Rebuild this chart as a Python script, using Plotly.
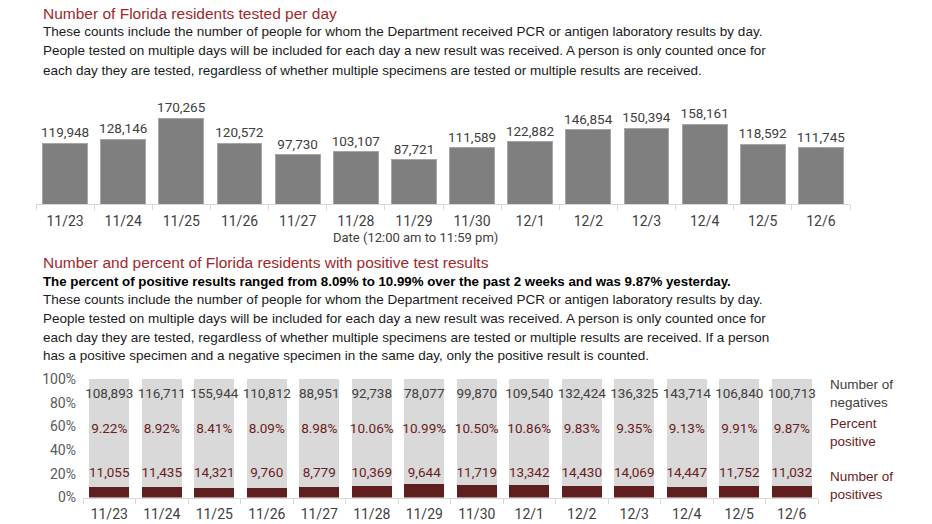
import plotly.graph_objects as go

W, H = 932, 524

dates = ["11/23", "11/24", "11/25", "11/26", "11/27", "11/28", "11/29",
         "11/30", "12/1", "12/2", "12/3", "12/4", "12/5", "12/6"]
tested = [119948, 128146, 170265, 120572, 97730, 103107, 87721,
          111589, 122882, 146854, 150394, 158161, 118592, 111745]
negatives = [108893, 116711, 155944, 110812, 88951, 92738, 78077,
             99870, 109540, 132424, 136325, 143714, 106840, 100713]
positives = [11055, 11435, 14321, 9760, 8779, 10369, 9644,
             11719, 13342, 14430, 14069, 14447, 11752, 11032]
pct_positive = [9.22, 8.92, 8.41, 8.09, 8.98, 10.06, 10.99,
                10.50, 10.86, 9.83, 9.35, 9.13, 9.91, 9.87]

RED = "#A0282C"
DKRED = "#6B1C1C"
BARRED = "#5F1F1F"
GRAY_TXT = "#404040"
NUMFONT = "Roboto, Arial, sans-serif"
BODYFONT = "Liberation Sans, Arial, sans-serif"


def px(x):
    return x / W


def py(y):
    return 1 - y / H


totals = [p + n for p, n in zip(positives, negatives)]
pos_frac = [p / t for p, t in zip(positives, totals)]
neg_frac = [n / t for n, t in zip(negatives, totals)]
n_cat = len(dates)

fig = go.Figure()

# Top chart
fig.add_trace(go.Bar(
    x=dates, y=tested, xaxis="x", yaxis="y",
    marker=dict(color="#7F7F7F", line=dict(color="#A6A6A6", width=1)),
    text=[f"{v:,}" for v in tested], textposition="outside",
    constraintext="none",
    textfont=dict(family=NUMFONT, size=13.5, color=GRAY_TXT),
    cliponaxis=False, showlegend=False, hoverinfo="x+y",
))

# Bottom chart stacked
fig.add_trace(go.Bar(
    x=dates, y=pos_frac, xaxis="x2", yaxis="y2",
    marker=dict(color=BARRED, line=dict(width=0)),
    showlegend=False, hoverinfo="x+y",
))
fig.add_trace(go.Bar(
    x=dates, y=neg_frac, xaxis="x2", yaxis="y2",
    marker=dict(color="#D9D9D9", line=dict(width=0)),
    showlegend=False, hoverinfo="x+y",
))

# labels in the bottom chart
fig.add_trace(go.Scatter(
    x=dates, y=[0.865] * n_cat, xaxis="x2", yaxis="y2", mode="text",
    text=[f"{v:,}" for v in negatives],
    textfont=dict(family=NUMFONT, size=13.5, color=GRAY_TXT),
    showlegend=False, hoverinfo="skip", cliponaxis=False,
))
fig.add_trace(go.Scatter(
    x=dates, y=[0.575] * n_cat, xaxis="x2", yaxis="y2", mode="text",
    text=[f"{v:.2f}%" for v in pct_positive],
    textfont=dict(family=NUMFONT, size=13.5, color=DKRED),
    showlegend=False, hoverinfo="skip", cliponaxis=False,
))
fig.add_trace(go.Scatter(
    x=dates, y=[0.2] * n_cat, xaxis="x2", yaxis="y2", mode="text",
    text=[f"{v:,}" for v in positives],
    textfont=dict(family=NUMFONT, size=13.5, color=DKRED),
    showlegend=False, hoverinfo="skip", cliponaxis=False,
))

axis_common = dict(
    showline=True, linecolor="#D9D9D9", linewidth=1,
    ticks="outside", tickson="boundaries", ticklen=5, tickcolor="#D9D9D9",
    showgrid=False, zeroline=False, automargin=False,
    range=[-0.5, n_cat - 0.5], ticklabelstandoff=4,
    tickfont=dict(family=NUMFONT, size=14, color=GRAY_TXT),
)

fig.update_layout(
    width=W, height=H, autosize=False,
    margin=dict(l=0, r=0, t=0, b=0, pad=0, autoexpand=False),
    paper_bgcolor="white", plot_bgcolor="white",
    barmode="stack", bargap=0.23,
    xaxis=dict(domain=[px(36), px(850)], anchor="y", **axis_common),
    yaxis=dict(domain=[py(204), py(103)], range=[0, 200000], anchor="x",
               visible=False, automargin=False),
    xaxis2=dict(domain=[px(83), px(818)], anchor="y2", **axis_common),
    yaxis2=dict(domain=[py(497.5), py(379)], range=[0, 1], anchor="x2",
                tickvals=[0, 0.2, 0.4, 0.6, 0.8, 1.0],
                ticktext=["0%", "20%", "40%", "60%", "80%", "100%"],
                tickfont=dict(family=NUMFONT, size=14, color="#595959"),
                showgrid=False, zeroline=False, showline=False,
                ticks="", ticklabelstandoff=6, automargin=False),
)

annotations = []


def txt(x, y, s, size=13.5, color="#1a1a1a", family=BODYFONT, bold=False,
        xanchor="left"):
    if bold:
        s = f"<b>{s}</b>"
    annotations.append(dict(
        x=px(x), y=py(y), xref="paper", yref="paper", text=s,
        showarrow=False, xanchor=xanchor, yanchor="middle", align="left",
        font=dict(family=family, size=size, color=color),
    ))


txt(41, 13, "Number of Florida residents tested per day", size=15.5, color=RED)
txt(41, 32, "These counts include the number of people for whom the Department received PCR or antigen laboratory results by day.")
txt(41, 51, "People tested on multiple days will be included for each day a new result was received. A person is only counted once for")
txt(41, 70, "each day they are tested, regardless of whether multiple specimens are tested or multiple results are received.")
txt(415, 238, "Date (12:00 am to 11:59 pm)", size=13, color=GRAY_TXT,
    family=NUMFONT, xanchor="center")

txt(41, 262, "Number and percent of Florida residents with positive test results", size=15.5, color=RED)
txt(41, 281, "The percent of positive results ranged from 8.09% to 10.99% over the past 2 weeks and was 9.87% yesterday.", size=13.3, bold=True, color="#000000")
txt(41, 299, "These counts include the number of people for whom the Department received PCR or antigen laboratory results by day.")
txt(41, 318, "People tested on multiple days will be included for each day a new result was received. A person is only counted once for")
txt(41, 337, "each day they are tested, regardless of whether multiple specimens are tested or multiple results are received. If a person")
txt(41, 355, "has a positive specimen and a negative specimen in the same day, only the positive result is counted.")

txt(828, 393, "Number of<br>negatives", size=13.5, color=GRAY_TXT)
txt(828, 432, "Percent<br>positive", size=13.5, color=DKRED)
txt(828, 485, "Number of<br>positives", size=13.5, color=DKRED)

fig.update_layout(annotations=annotations)

fig.write_html("out.html", config={"displayModeBar": False},
               post_script="document.body.style.margin='0px';")
